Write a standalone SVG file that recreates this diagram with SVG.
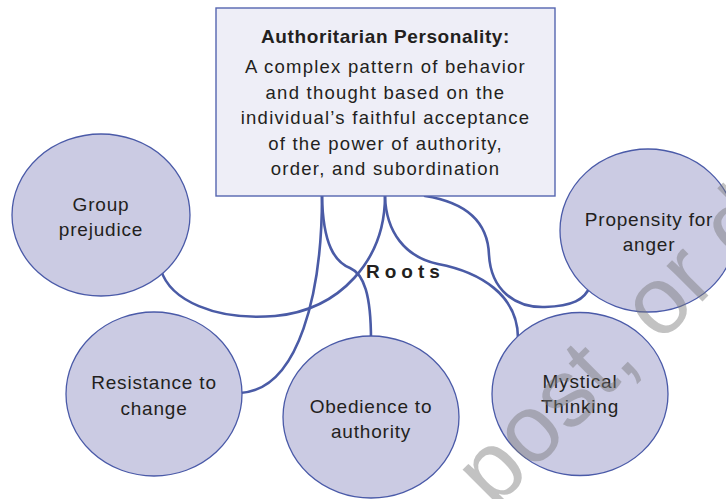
<svg xmlns="http://www.w3.org/2000/svg" width="726" height="499" viewBox="0 0 726 499">
  <style>
    .conn { fill: none; stroke: #4a5ba6; stroke-width: 2.6; stroke-linecap: round; }
    .bub { fill: #cbcbe3; stroke: #4a5aa8; stroke-width: 1.3; }
    .box { fill: #eeeef7; stroke: #5565b0; stroke-width: 1.4; }
    .t { font-family: "Liberation Sans", Arial, sans-serif; fill: #231f20; text-anchor: middle; }
    .ct { font-size: 19px; letter-spacing: 0.8px; }
    .bt { font-size: 18.5px; letter-spacing: 1.25px; }
    .tt { font-size: 19px; font-weight: bold; letter-spacing: 0.6px; }
    .roots { font-family: "Liberation Sans", Arial, sans-serif; fill: #231f20; font-size: 19px; font-weight: bold; letter-spacing: 5px; }
    .wm { font-family: "Liberation Sans", Arial, sans-serif; font-size: 96px; fill: #777777; fill-opacity: 0.45; }
  </style>
  <rect width="726" height="499" fill="#ffffff"/>

  <g id="connectors">
    <path class="conn" d="M322,196 C322,290 300,390 240,393"/>
    <path class="conn" d="M322,196 C323,245 335,262 350,268 C364,274 371,295 371,340"/>
    <path class="conn" d="M385,196 C385,260 340,310 275,316 C215,321 170,300 161,270"/>
    <path class="conn" d="M385,196 C386,232 405,257 438,264 C480,272 518,295 518,338"/>
    <path class="conn" d="M425,196 C470,203 488,225 489,255 C491,290 515,308 545,307 C572,306 585,300 590,286"/>
  </g>

  <g id="root">
    <rect class="box" x="216" y="8" width="339" height="188"/>
    <text class="t tt" x="385.5" y="43">Authoritarian Personality:</text>
    <text class="t bt" x="385.5" y="73">A complex pattern of behavior</text>
    <text class="t bt" x="385.5" y="98.5">and thought based on the</text>
    <text class="t bt" x="385.5" y="124">individual’s faithful acceptance</text>
    <text class="t bt" x="385.5" y="149.5">of the power of authority,</text>
    <text class="t bt" x="385.5" y="174.5">order, and subordination</text>
  </g>

  <g id="roots-label">
    <text class="roots" x="366" y="278">Roots</text>
  </g>

  <g id="group-prejudice">
    <ellipse class="bub" cx="101" cy="215" rx="89" ry="81"/>
    <text class="t ct" x="101" y="211">Group</text>
    <text class="t ct" x="101" y="236">prejudice</text>
  </g>

  <g id="resistance-to-change">
    <ellipse class="bub" cx="154" cy="394" rx="88" ry="82"/>
    <text class="t ct" x="154" y="389">Resistance to</text>
    <text class="t ct" x="154" y="415">change</text>
  </g>

  <g id="obedience-to-authority">
    <ellipse class="bub" cx="371" cy="417" rx="88" ry="81"/>
    <text class="t ct" x="371" y="413">Obedience to</text>
    <text class="t ct" x="371" y="438">authority</text>
  </g>

  <g id="mystical-thinking">
    <ellipse class="bub" cx="580" cy="394" rx="88" ry="81.5"/>
    <text class="t ct" x="580" y="388">Mystical</text>
    <text class="t ct" x="580" y="413">Thinking</text>
  </g>

  <g id="propensity-for-anger">
    <ellipse class="bub" cx="648" cy="230.5" rx="88" ry="81.5"/>
    <text class="t ct" x="649" y="226">Propensity for</text>
    <text class="t ct" x="649" y="251">anger</text>
  </g>

  <text class="wm" transform="translate(494,510) rotate(-45)">post, or distribute</text>
</svg>
